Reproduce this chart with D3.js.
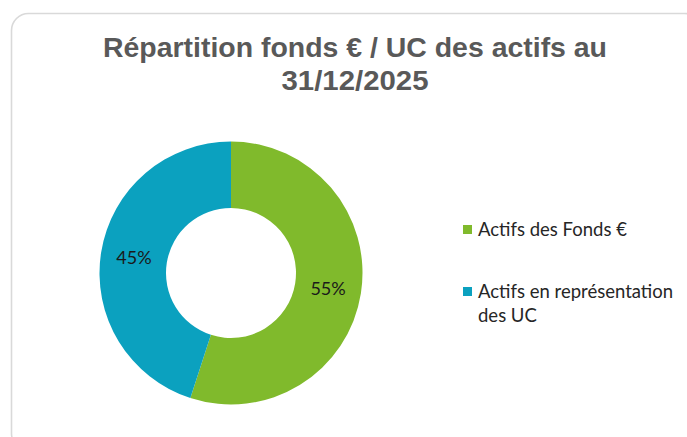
<!DOCTYPE html>
<html>
<head>
<meta charset="utf-8">
<script src="https://cdn.jsdelivr.net/npm/d3@7"></script>
<style>
  html, body { margin: 0; padding: 0; background: #fff; }
  svg { display: block; }
</style>
</head>
<body>
<svg width="687" height="437"></svg>
<script>
var categories = ["Actifs des Fonds €", "Actifs en représentation des UC"],
    values = [55, 45],
    colors = ["#80BA2C", "#0BA1BF"],
    titleLines = ["Répartition fonds € / UC des actifs au", "31/12/2025"];

var svg = d3.select("svg"),
    width = +svg.attr("width"),
    height = +svg.attr("height"),
    cx = 231, cy = 273,
    outer = 131.5, inner = 65;

// card background
svg.append("rect")
    .attr("x", 11.5).attr("y", 13.5)
    .attr("width", 690).attr("height", 437)
    .attr("rx", 17).attr("ry", 17)
    .attr("fill", "#fff")
    .attr("stroke", "#d9d9d9")
    .attr("stroke-width", 1.6);

// title
svg.append("g").selectAll("text")
    .data(titleLines)
    .enter().append("text")
    .attr("x", 355)
    .attr("y", function(d, i) { return 57 + i * 32.5; })
    .attr("text-anchor", "middle")
    .attr("font-family", "Liberation Sans, Arial, sans-serif")
    .attr("font-weight", "bold")
    .attr("font-size", 28)
    .attr("fill", "#595959")
    .attr("textLength", function(d, i) { return i == 0 ? 504 : 147; })
    .attr("lengthAdjust", "spacingAndGlyphs")
    .text(function(d) { return d; });

var pie = d3.pie().sort(null).value(function(d) { return d; });
var arc = d3.arc().innerRadius(inner).outerRadius(outer);
var labelArc = d3.arc().innerRadius((inner + outer) / 2).outerRadius((inner + outer) / 2);

var arcs = pie(values);

var donut = svg.append("g")
    .attr("transform", "translate(" + cx + "," + cy + ")");

donut.selectAll("path")
    .data(arcs)
    .enter().append("path")
    .attr("d", arc)
    .attr("fill", function(d, i) { return colors[i]; });

donut.selectAll("text")
    .data(arcs)
    .enter().append("text")
    .attr("transform", function(d) { return "translate(" + labelArc.centroid(d) + ")"; })
    .attr("text-anchor", "middle")
    .attr("dy", "0.36em")
    .attr("font-family", "Lato, sans-serif")
    .attr("font-size", 18)
    .attr("fill", "#1a1a1a")
    .text(function(d) { return d.value + "%"; });

// legend
var legendY = [236, 298];
var legend = svg.append("g").selectAll("g")
    .data(categories)
    .enter().append("g")
    .attr("transform", function(d, i) { return "translate(463," + legendY[i] + ")"; });

legend.append("rect")
    .attr("x", 0).attr("y", -11)
    .attr("width", 9).attr("height", 9)
    .attr("fill", function(d, i) { return colors[i]; });

var legendText = legend.append("text")
    .attr("x", 15)
    .attr("font-family", "Lato, sans-serif")
    .attr("font-size", 18.5)
    .attr("fill", "#262626");

legendText.each(function(d, i) {
    var t = d3.select(this);
    if (i == 0) {
        t.append("tspan").attr("x", 15).text(d);
    } else {
        t.append("tspan").attr("x", 15).text("Actifs en représentation");
        t.append("tspan").attr("x", 15).attr("dy", 24).text("des UC");
    }
});
</script>
</body>
</html>
